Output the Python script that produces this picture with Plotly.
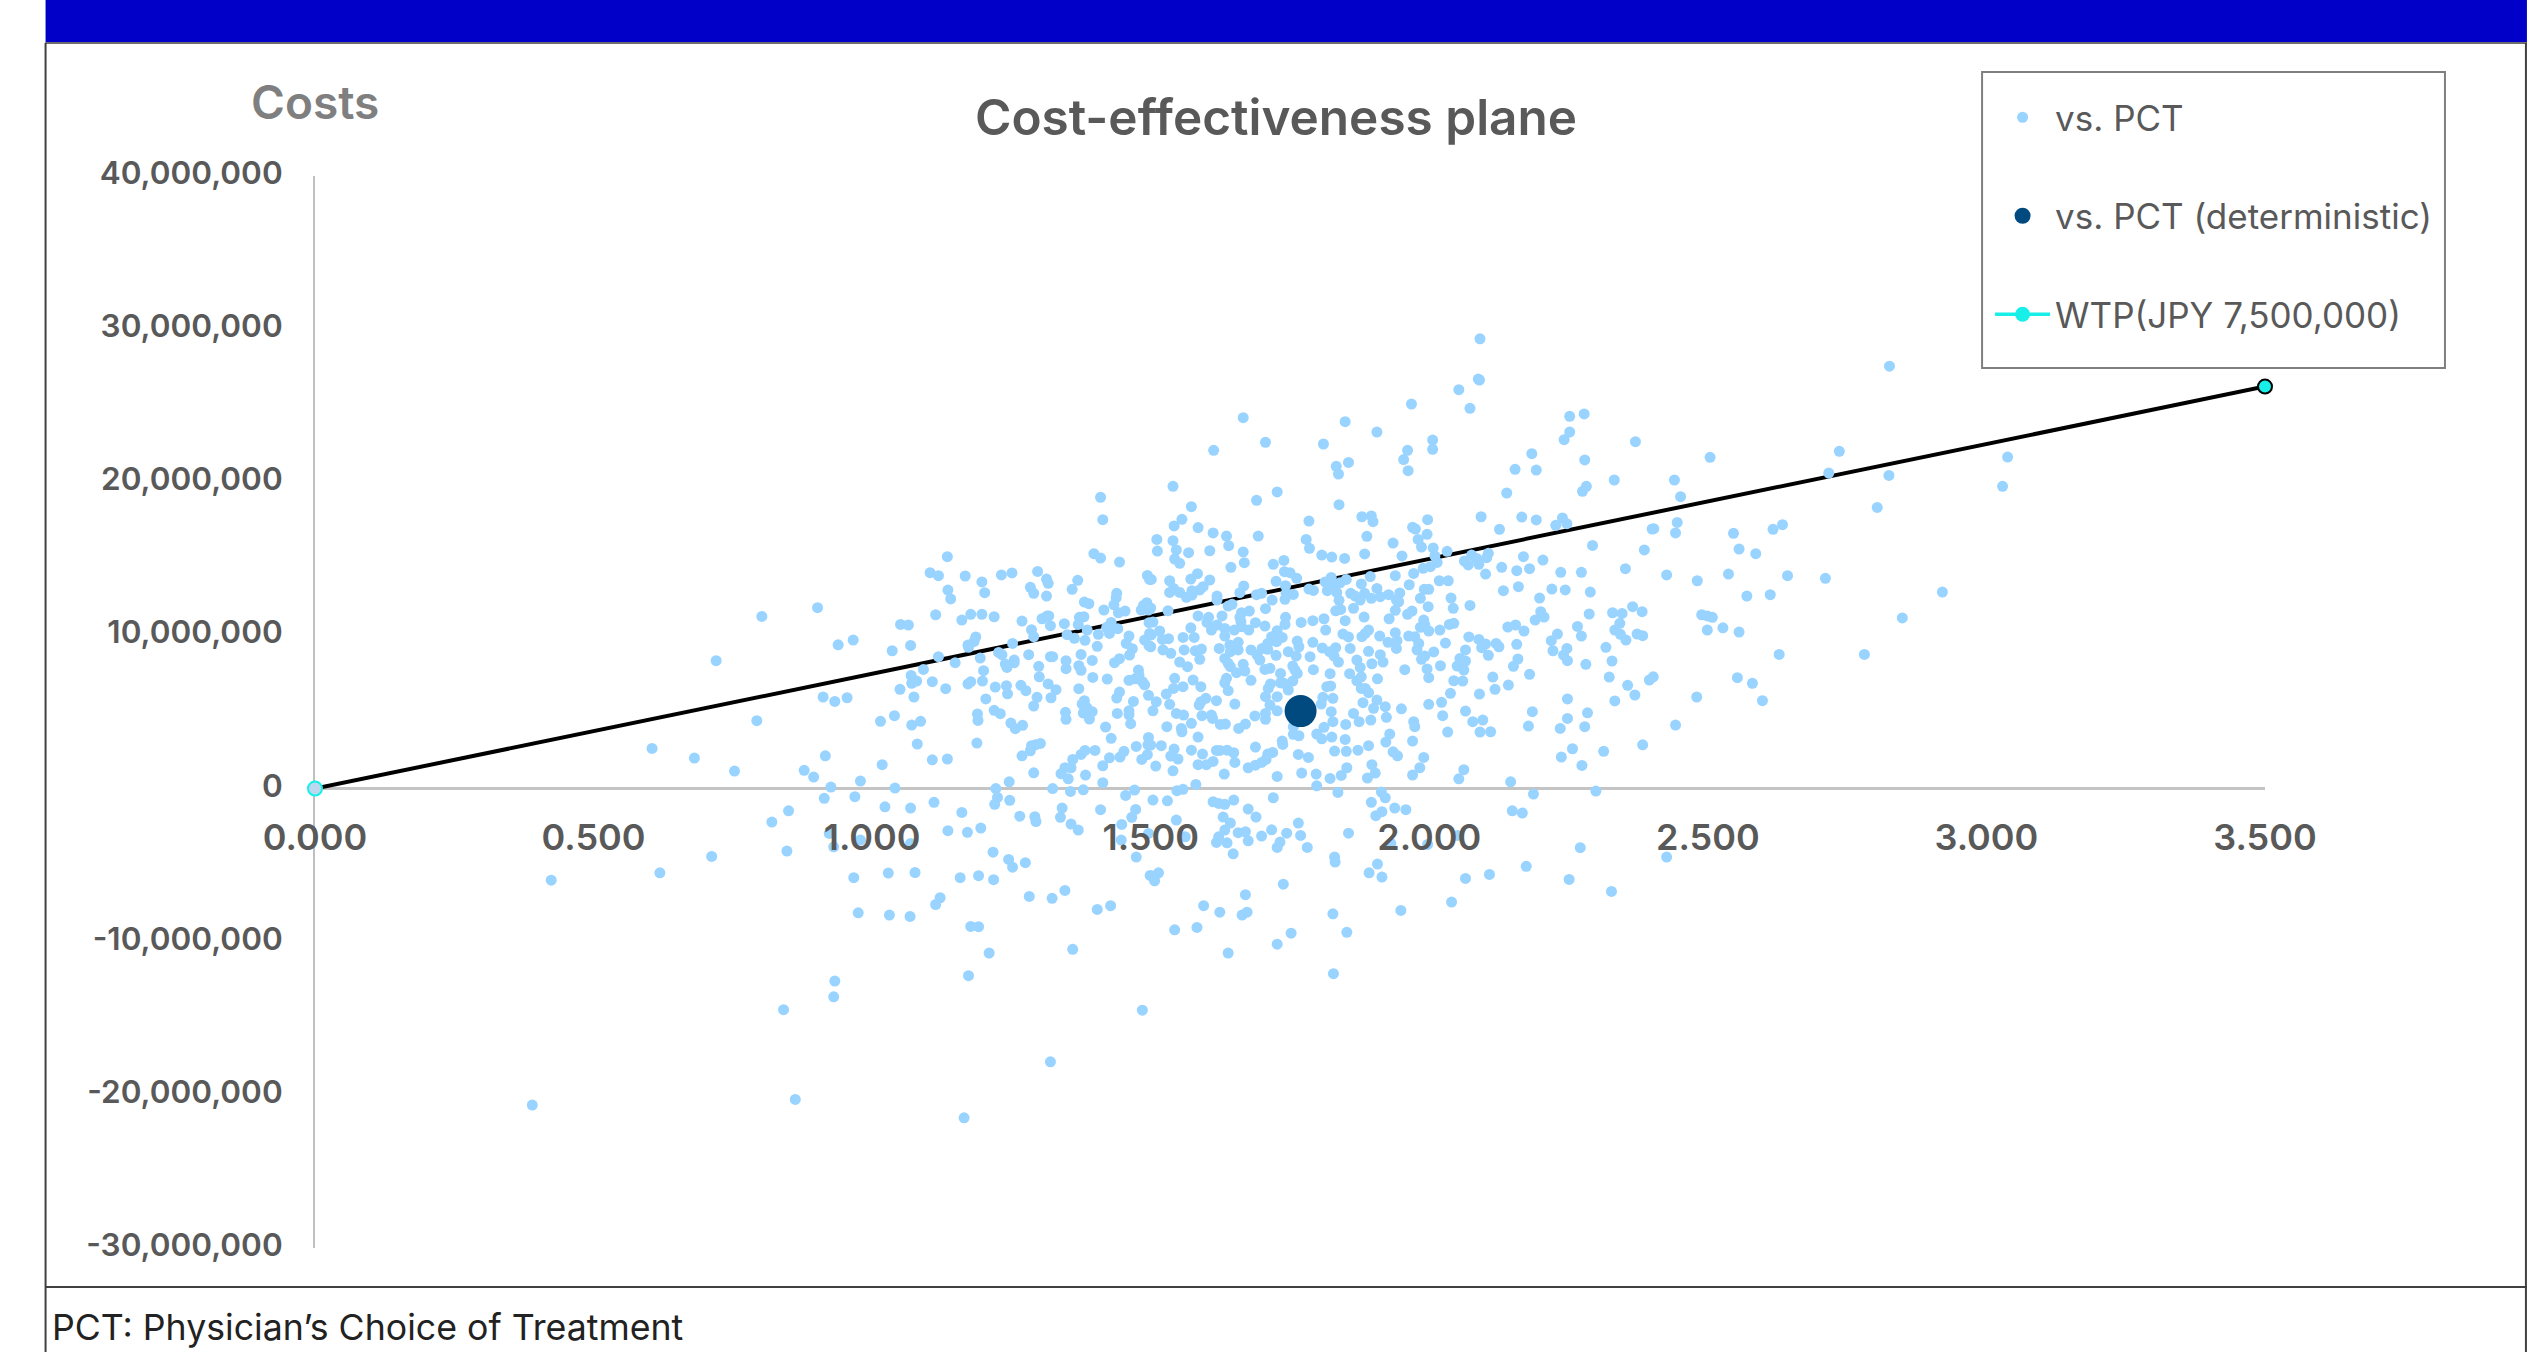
import plotly.graph_objects as go

# ---- data: QALYs gained (x) and incremental costs in million JPY (y) ----
qaly_upper_left = [.720,.802,.902,.939,.966,.912,.933,.955,.793,1.051,1.065,1.036,1.069,1.104,1.119,1.135,1.136,1.141,1.114,1.167,
1.197,1.202,1.232,1.251,1.297,1.313,1.316,1.284,1.290,1.313,1.369,1.359,1.410,1.414,1.398,1.410,1.444,1.494,1.498,1.161,
1.177,1.197,1.219,1.269,1.305,1.314,1.317,1.320,1.345,1.381,1.389,1.439,1.438,1.434,1.416,1.442,1.454,1.372,1.380,1.370,
1.386,1.483,1.487,1.493,1.496,1.497,1.429,1.421,1.429,1.441,1.426,1.406,1.286,1.290,1.350,1.363,1.382,1.404,1.461,1.456,
1.467,1.462,1.489,1.498,1.497,1.186,1.172,1.183,1.173,1.119,1.149,1.252,1.227,1.233,1.194,1.281,1.320,1.324,1.375,1.395,
1.348,1.348,1.371,1.375,1.299,1.300,1.255,1.255,1.239,1.242,1.200,1.444,1.435,1.092,1.070,1.080,1.071,1.108,1.132,1.050,
1.075,1.172,1.177,1.198,1.221,1.241,1.243,1.267,1.276,1.316,1.330,1.296,1.321,1.290,1.204,1.396,1.422,1.371,1.461,1.478,
1.472,1.479,1.485,1.489,1.444,1.439,1.496,1.469,1.381,1.377,1.385,1.379,1.395,1.390,1.347,1.348,1.440,1.461,1.461,1.464,
1.219,1.230,1.189,1.190,1.040,1.015,1.087,1.071,1.249,1.270,1.257,1.419]
cost_upper_left = [8.35,11.24,11.81,9.39,9.70,5.98,5.69,5.93,4.43,10.72,10.68,9.00,9.35,14.10,13.90,15.14,12.96,12.38,11.35,13.88,
13.49,12.79,13.95,14.08,14.18,13.68,13.40,13.14,12.75,12.57,13.60,13.01,19.02,17.56,15.34,15.05,14.79,13.92,13.66,11.00,
11.38,11.38,11.22,10.94,11.09,11.27,11.27,10.64,10.77,12.18,12.07,12.75,12.46,12.00,11.66,11.48,11.59,11.18,11.22,10.72,
10.35,11.66,11.96,12.14,11.66,10.83,10.85,10.53,10.46,10.44,10.13,10.07,10.37,9.92,10.05,9.81,9.68,9.29,9.96,9.48,
9.13,8.72,9.70,10.13,9.33,9.90,9.37,9.61,9.22,8.61,8.22,9.48,8.89,8.74,8.52,8.74,8.61,8.61,8.76,8.37,
8.35,7.83,8.02,7.72,7.98,7.30,8.39,8.22,8.13,7.91,7.70,8.48,8.22,7.78,7.39,7.02,6.87,6.98,6.52,6.48,
5.98,6.83,6.98,7.02,6.63,6.72,6.19,6.74,6.39,6.83,6.46,5.96,5.93,5.39,5.85,7.26,7.15,6.52,7.07,7.74,
7.17,7.41,6.98,6.78,6.30,5.91,6.09,5.69,5.74,5.52,5.30,4.93,5.02,4.54,4.98,4.52,4.91,5.08,4.82,4.24,
5.11,4.89,4.87,4.45,4.76,4.39,4.39,4.15,4.28,4.13,3.91,4.02]

qaly_lower_left = [.605,.681,.753,.878,.895,.916,.926,.979,1.018,1.081,1.108,1.135,1.188,1.041,.969,.914,.850,.820,1.023,1.069,
1.111,1.161,1.136,1.171,1.195,.923,.979,1.069,.931,.847,.712,.619,.967,1.029,1.077,1.158,1.191,1.218,1.217,1.245,
1.252,1.275,1.122,1.114,1.282,1.323,1.346,.975,1.031,1.068,1.177,1.191,1.210,1.360,1.173,.933,.931,.841,1.320,1.485,
1.404,1.428,1.474,1.499,1.448,1.447,1.496,1.466,1.473,1.410,1.357,1.370,1.338,1.341,1.292,1.294,1.265,1.247,1.225,1.220,
1.222,1.246,1.290,1.324,1.356,1.379,1.414,1.455,1.471,1.352,1.339,1.346,1.357,1.383,1.414,1.360,1.375,1.382,1.400,1.426,
1.445,1.452,1.474,1.484,1.494,1.269,1.284,1.286,1.293,1.302,1.429,1.496,1.495,.390,.862,1.165,.424]
cost_lower_left = [2.62,1.99,1.14,1.19,.75,2.14,.10,.49,1.56,2.91,1.88,1.93,2.97,.03,-.53,-.64,-1.45,-2.19,-1.19,-1.27,
-.90,-1.56,-2.75,-2.86,-2.58,-2.93,-3.36,-3.58,-3.80,-4.08,-4.43,-5.50,-5.82,-5.52,-5.48,-5.82,-5.69,-5.95,-4.15,-4.63,
-5.13,-4.84,-7.13,-7.57,-7.04,-7.17,-6.65,-8.11,-8.26,-8.35,-9.00,-9.02,-10.74,-10.50,-12.22,-12.57,-13.60,-14.44,-17.84,-14.47,
-7.89,-7.65,-4.47,-5.67,-2.34,-3.36,-2.93,-1.88,-1.36,-1.38,-2.32,-2.71,-1.88,-1.27,-1.84,-2.15,-1.80,-.77,-.58,-1.03,
0.0,.44,1.03,0.0,-.19,-.08,.38,-.45,-.10,.64,.97,1.36,1.36,.88,1.49,1.90,2.23,2.49,2.49,2.01,
2.06,2.43,2.75,1.90,2.21,2.14,2.47,2.80,2.86,2.95,3.28,3.34,2.86,-20.67,-20.30,-21.50,-5.98]

qaly_upper_mid_a = [1.666,1.613,1.706,1.849,1.810,1.906,1.968,2.053,2.090,2.073,2.252,2.278,2.252,2.242,2.370,2.006,2.006,1.961,1.954,1.962,
1.855,1.833,1.837,2.184,2.154,2.192,2.279,2.332,2.282,2.275,2.139,1.540,1.573,1.690,1.727,1.838,1.556,1.542,1.585,1.612,
1.636,1.693,1.784,1.779,1.785,1.879,1.896,1.899,1.888,1.970,1.975,1.997,1.996,1.980,1.986,1.935,1.884,1.951,2.007,2.010,
2.032,2.093,2.166,2.192,2.126,2.239,2.227,2.247,2.293,2.386,2.400,1.511,1.540,1.546,1.512,1.568,1.606,1.640,1.666,1.543,
1.552,1.668,1.644,1.720,1.739,1.807,1.825,1.848,2.169,2.204,2.106,2.076,2.063,2.085,2.070,2.089,2.103,2.130,2.157,2.180,
2.101,2.236,2.273,2.352,2.133,2.160,2.220,2.244,2.289,2.198,2.073,2.039,2.043,2.018,2.034,2.014,2.002,1.989,1.972,1.939,
1.894,1.964,1.878,1.906,1.947,1.991,1.999,1.984,1.998,1.927,1.912,1.859,1.867,1.884,1.896,1.876,1.941,1.945,1.939,1.864,
1.969,1.961,1.928,1.883,1.838,1.834,1.841,1.832,1.817,1.813,1.824,1.827,1.840,1.851,1.824,1.784,1.792,1.756,1.741,1.743,
1.742,1.725,1.740,1.750,1.762,1.718,1.706,1.699,1.690,1.667,1.660,1.606,1.584,1.572,1.594,1.588,1.574,1.534,1.501,1.541,
1.534,1.552,1.564,1.574,1.619,1.619,1.646,1.639,1.531,1.500,1.585,1.604,1.628,1.677,1.663,1.660,1.742,1.741,1.770,1.791,
1.811,1.849,1.814]
cost_upper_mid_a = [24.22,22.09,22.61,23.96,22.50,23.28,25.11,26.05,26.68,24.83,24.31,24.46,23.28,22.78,22.65,22.76,22.15,22.09,21.48,20.76,
21.30,21.04,20.54,21.87,20.85,20.80,21.46,20.15,19.74,19.41,19.30,19.74,18.41,18.82,19.37,18.54,17.58,17.15,17.04,16.69,
16.49,16.49,17.47,16.27,15.69,17.75,17.80,17.43,16.47,17.06,16.95,17.56,16.60,16.27,15.77,16.03,15.32,15.19,15.71,15.19,
15.49,17.75,17.73,17.54,16.93,17.67,17.19,17.30,15.88,15.58,16.95,16.27,16.19,15.58,15.51,15.40,15.53,15.86,15.45,14.99,
14.71,14.75,14.45,14.64,14.90,15.25,15.12,15.03,15.14,14.92,15.36,15.25,14.86,15.03,14.60,14.64,15.08,14.45,14.23,14.36,
14.01,14.12,14.12,14.36,12.92,13.18,13.03,12.97,12.83,12.44,11.96,12.44,11.77,13.57,13.57,14.77,14.49,14.38,14.05,13.90,
13.84,13.31,13.36,13.07,12.77,13.01,13.01,12.42,11.88,12.66,12.53,12.75,12.57,12.75,12.42,12.31,12.31,12.20,11.64,11.77,
11.59,11.38,11.09,11.20,12.29,12.81,11.70,11.61,12.92,13.49,13.79,13.36,13.44,13.66,13.07,13.03,12.94,12.68,12.36,12.75,
13.25,13.53,14.16,14.10,13.73,12.31,11.75,12.75,12.66,13.23,12.79,13.62,14.03,13.68,13.18,12.97,12.92,13.57,13.66,13.07,
12.81,12.81,12.49,12.64,12.57,12.31,12.03,11.92,11.61,11.79,11.27,11.18,11.27,11.59,11.48,11.18,11.18,10.72,10.85,10.96,
11.09,10.96,10.35]

qaly_upper_mid_b = [1.504,1.572,1.516,1.601,1.609,1.619,1.633,1.650,1.663,1.676,1.688,1.705,1.662,1.501,1.532,1.521,1.558,1.578,1.633,1.657,
1.642,1.500,1.522,1.536,1.560,1.580,1.591,1.623,1.643,1.657,1.680,1.700,1.710,1.727,1.736,1.717,1.726,1.710,1.763,1.766,
1.791,1.747,1.761,1.725,1.691,1.696,1.808,1.832,1.821,1.829,1.786,1.837,1.858,1.845,1.855,1.879,1.891,1.885,1.911,1.926,
1.939,1.942,1.941,1.891,1.912,1.917,1.870,1.876,1.897,1.963,1.974,1.981,1.978,1.992,1.984,1.990,1.999,2.019,2.036,2.044,
2.029,2.008,1.992,1.986,1.956,1.996,2.020,1.999,2.071,2.065,2.055,2.065,2.050,2.062,2.044,2.060,2.089,2.101,2.094,2.106,
2.120,2.125,2.141,2.155,2.170,2.157,2.159,2.151,2.180,2.114,2.142,2.118,2.090,2.038,2.022,1.999,1.950,2.024,2.065,2.078,
2.096,2.178,2.185,2.248,2.248,2.284,2.333,2.369,2.356,2.323,2.281,2.328,2.317,2.248,2.241,2.247,2.222,2.219,2.230,2.266,
2.273,2.190,2.206,2.200,2.287,2.329,2.346,2.365,2.382,2.342,2.333,2.343,2.353,2.373,2.383,2.395]
cost_upper_mid_b = [10.87,10.50,10.29,10.85,10.35,10.68,10.46,10.35,10.57,10.35,10.83,10.61,10.90,10.03,9.79,9.74,9.87,9.87,9.96,9.55,
9.37,9.26,9.05,8.83,9.05,9.00,9.11,9.15,8.94,9.05,9.05,9.15,9.09,10.31,9.87,9.92,9.59,9.48,9.63,9.26,
9.55,8.94,8.65,8.70,8.72,8.39,9.18,9.20,8.94,8.65,8.61,8.26,9.15,10.09,9.90,9.92,10.35,10.13,9.96,9.55,
10.18,9.66,9.15,8.96,8.74,8.26,8.39,7.91,8.15,9.96,9.92,9.48,9.05,10.68,10.53,11.00,10.29,10.35,10.72,10.79,
9.50,8.92,8.65,8.44,7.76,7.81,8.02,7.24,9.90,9.05,8.50,8.33,8.00,7.74,7.04,7.02,9.74,9.44,9.20,8.70,
9.48,9.26,10.55,10.68,10.29,9.42,8.46,7.98,7.46,7.28,6.76,6.48,6.17,6.22,5.63,5.50,5.21,4.76,5.06,4.37,
4.47,4.08,5.02,5.85,4.58,4.95,5.72,6.11,6.74,7.28,8.11,8.33,9.22,8.35,8.72,9.15,9.00,9.66,10.09,10.59,
9.96,11.00,11.20,11.55,11.40,11.48,11.44,11.88,11.55,10.79,10.35,10.07,9.70,10.09,9.98,7.09]

qaly_upper_mid_c = [1.827,1.809,1.806,1.906,1.881,1.921,1.900,1.864,1.824,1.923,1.895,1.874,1.850,1.827,1.811,1.972,1.974,1.885,1.891,1.878,
1.870,1.857,1.907,1.878,1.822,1.792,1.823,1.816,1.755,1.759,1.763,1.755,1.747,1.733,1.739,1.714,1.705,1.680,1.669,1.666,
1.654,1.639,1.633,1.643,1.588,1.566,1.552,1.543,1.576,1.590,1.558,1.541,1.528,1.636,1.633,1.639,1.618,1.651,1.599,1.590,
1.587,1.510,1.534,1.546,1.559,1.592,1.609,1.611,1.573,1.529,1.555,1.625,1.634,1.670,1.658,1.687,1.706,1.706,1.727,1.711,
1.706,1.715,1.727,1.714,1.733,1.504,1.756,2.235,2.279]
cost_upper_mid_c = [5.89,5.96,5.52,5.78,5.61,5.35,5.24,4.91,5.02,4.65,4.47,4.37,4.19,4.37,4.00,4.37,4.04,6.54,6.26,6.54,
7.04,7.50,7.17,7.30,7.50,7.76,6.70,6.65,8.00,7.74,7.52,7.02,6.43,7.52,6.87,7.85,7.78,7.07,7.67,8.11,
7.57,8.18,8.50,7.96,8.44,7.96,8.26,7.20,7.09,6.65,6.65,6.54,6.17,7.20,6.91,6.39,5.74,5.52,5.89,5.67,
5.45,5.67,5.50,4.91,4.80,4.76,4.80,4.58,4.26,4.04,3.93,4.19,4.21,4.21,3.93,4.74,4.91,4.52,5.08,6.54,
6.00,6.83,6.00,5.45,6.91,5.08,4.04,3.93,4.04]

qaly_upper_right = [2.504,2.440,2.451,2.736,2.717,2.825,2.804,3.038,3.029,2.445,2.442,2.403,2.546,2.556,2.586,2.617,2.634,2.426,2.481,2.537,
2.643,2.711,2.570,2.612,2.921,2.849,2.489,2.499,2.508,2.499,2.527,2.556,2.628,2.781,2.402,2.553,2.580,2.480,2.598,2.442,
2.091,2.088,2.826]
cost_upper_right = [21.63,20.15,19.06,22.02,20.60,20.45,18.36,21.65,19.74,17.38,16.69,16.97,16.67,15.64,15.34,16.93,17.23,13.95,13.57,14.01,
13.90,13.73,12.57,12.66,12.83,11.14,11.35,11.27,11.18,10.35,10.50,10.22,8.76,8.76,7.30,7.24,6.87,5.98,5.74,4.15,
29.37,26.74,27.58]

qaly_lower_mid = [1.519,1.500,1.542,1.536,1.549,1.509,1.540,1.573,1.593,1.585,1.556,1.585,1.600,1.612,1.632,1.581,1.547,1.558,1.504,1.530,
1.618,1.624,1.637,1.649,1.651,1.688,1.675,1.688,1.699,1.707,1.710,1.719,1.736,1.737,1.756,1.766,1.765,1.783,1.727,1.771,
1.797,1.798,1.822,1.842,1.852,1.830,1.851,1.872,1.891,1.849,1.825,1.798,1.807,1.922,1.929,1.970,2.033,2.091,2.110,1.935,
1.943,1.990,1.897,1.983,1.903,1.889,1.970,2.062,2.053,2.146,2.237,2.257,2.274,2.313,2.383,2.187,2.299,1.836,1.914,1.921,
1.896,1.938,1.958,1.915,1.904,2.149,2.167,1.612,1.622,1.633,1.649,1.675,1.689,1.720,1.630,1.643,1.633,1.622,1.618,1.637,
1.657,1.670,1.675,1.648,1.699,1.717,1.744,1.765,1.769,1.732,1.727,1.781,1.855,1.546,1.562,1.931,1.997,2.051,2.271,1.830,
1.831,1.907,1.892,1.915,2.174,2.065,2.108,2.251,2.327,1.514,1.502,1.507,1.738,1.670,2.040,1.595,1.624,1.664,1.673,1.827,
1.949,1.543,1.583,1.852,1.752,1.727,1.639,1.828,2.426]
cost_lower_mid = [2.80,2.84,2.58,2.12,1.93,1.47,1.16,2.51,2.25,3.36,3.71,1.56,1.56,1.77,.95,.27,-.14,-.05,-.75,-.80,
2.49,2.49,2.51,2.34,1.71,2.71,1.36,1.53,1.71,1.90,2.25,2.36,3.10,2.88,3.54,3.45,2.23,2.03,.79,1.01,
.95,.18,.66,.86,1.36,2.45,2.43,2.51,2.80,3.21,3.36,3.56,3.25,3.04,3.56,3.10,3.69,3.69,3.71,2.40,
2.14,2.03,1.56,1.36,1.01,.69,.88,1.23,.64,.44,2.06,2.60,1.51,2.43,2.86,-.36,-.16,-.25,-.23,-.60,
-.90,-1.27,-1.38,-1.51,-1.77,-1.45,-1.60,-.86,-.97,-1.03,-.75,-1.34,-1.86,-.60,-1.86,-2.25,-2.71,-3.15,-3.52,-3.54,
-2.88,-2.82,-3.41,-4.26,-3.10,-2.69,-2.91,-2.25,-3.06,-3.49,-3.84,-3.84,-2.91,-2.06,-3.15,-3.58,-3.65,-3.06,-3.86,-4.47,
-4.80,-4.93,-5.50,-5.78,-5.08,-5.87,-5.61,-5.93,-6.72,-5.50,-5.71,-6.02,-6.24,-6.93,-7.41,-7.65,-8.07,-8.26,-8.07,-8.18,
-7.96,-9.22,-9.07,-9.39,-9.44,-10.16,-10.74,-12.09,-4.47]

deterministic_qaly = [1.769]
deterministic_cost_m = [5.06]
wtp_qaly = [0.0, 3.5]
wtp_cost_m = [0.0, 26.25]

x_ticks = [0.0, 0.5, 1.0, 1.5, 2.0, 2.5, 3.0, 3.5]
x_labels = ["0.000", "0.500", "1.000", "1.500", "2.000", "2.500", "3.000", "3.500"]
y_ticks = [-30, -20, -10, 0, 10, 20, 30, 40]
y_labels = ["-30,000,000", "-20,000,000", "-10,000,000", "0", "10,000,000", "20,000,000", "30,000,000", "40,000,000"]

qaly_groups = [qaly_upper_left, qaly_lower_left, qaly_upper_mid_a, qaly_upper_mid_b, qaly_upper_mid_c, qaly_upper_right, qaly_lower_mid]
cost_groups = [cost_upper_left, cost_lower_left, cost_upper_mid_a, cost_upper_mid_b, cost_upper_mid_c, cost_upper_right, cost_lower_mid]
for a, b in zip(qaly_groups, cost_groups):
    assert len(a) == len(b), (len(a), len(b))
psa_qaly = [v for g in qaly_groups for v in g]
psa_cost = [v * 1e6 for g in cost_groups for v in g]

W, H = 2527, 1352
L, R, T, B = 314.5, 2265, 176, 1248
PW, PH = R - L, B - T
def px(x): return (x - L) / PW
def py(y): return (B - y) / PH

FONT = "Inter, 'Liberation Sans', Arial, sans-serif"
GREY = "#595959"
CYAN = "#17EFE8"

fig = go.Figure()
# black WTP line first so that the PSA dots lie over it
fig.add_trace(go.Scatter(
    x=wtp_qaly, y=[v * 1e6 for v in wtp_cost_m], mode="lines+markers", showlegend=False, cliponaxis=False,
    line=dict(color="#000000", width=4),
    marker=dict(size=14, color=["#BDD7EE", CYAN], line=dict(color=[CYAN, "#000000"], width=2)),
))
fig.add_trace(go.Scatter(
    x=psa_qaly, y=psa_cost, mode="markers", name="vs. PCT", legendgroup="a",
    marker=dict(size=11, color="#99D3FF"),
))
fig.add_trace(go.Scatter(
    x=deterministic_qaly, y=[v * 1e6 for v in deterministic_cost_m], mode="markers",
    name="vs. PCT (deterministic)", legendgroup="b",
    marker=dict(size=32, color="#004A7F"),
))
fig.add_trace(go.Scatter(
    x=[None], y=[None], mode="lines+markers", name="WTP(JPY 7,500,000)", legendgroup="c",
    line=dict(color=CYAN, width=3.5), marker=dict(size=15, color=CYAN),
))

shapes = [
    dict(type="rect", xref="paper", yref="paper", x0=px(45), x1=px(2527), y0=py(43), y1=py(0),
         fillcolor="#0000C8", line=dict(width=0), layer="below"),
    dict(type="line", xref="paper", yref="paper", x0=px(45), x1=px(2527), y0=py(43), y1=py(43),
         line=dict(color="#6E6E6E", width=2), layer="below"),
    dict(type="line", xref="paper", yref="paper", x0=px(45), x1=px(45), y0=py(43), y1=py(1352),
         line=dict(color="#404040", width=2), layer="below"),
    dict(type="line", xref="paper", yref="paper", x0=px(2526), x1=px(2526), y0=py(43), y1=py(1352),
         line=dict(color="#404040", width=2), layer="below"),
    dict(type="line", xref="paper", yref="paper", x0=px(45), x1=px(2527), y0=py(1287), y1=py(1287),
         line=dict(color="#404040", width=2), layer="below"),
    # frame of the legend
    dict(type="rect", xref="paper", yref="paper", x0=px(1982), x1=px(2445), y0=py(368), y1=py(72),
         fillcolor="rgba(0,0,0,0)", line=dict(color="#7F7F7F", width=2), layer="below"),
]
annotations = [
    dict(text="Costs", xref="paper", yref="paper", x=px(315), y=py(102), xanchor="center", yanchor="middle",
         showarrow=False, font=dict(family=FONT, size=46, color="#7F7F7F", weight=600)),
    dict(text="PCT: Physician\u2019s Choice of Treatment", xref="paper", yref="paper", x=px(49), y=py(1327),
         xanchor="left", yanchor="middle", showarrow=False, font=dict(family=FONT, size=35.7, color="#222222")),
]

fig.update_layout(
    width=W, height=H, autosize=False, paper_bgcolor="white", plot_bgcolor="rgba(0,0,0,0)",
    margin=dict(l=L, r=W - R, t=T, b=H - B, pad=0),
    shapes=shapes, annotations=annotations,
    title=dict(text="Cost-effectiveness plane", x=1276 / W, y=1 - 118 / H, xanchor="center", yanchor="middle",
               xref="container", yref="container",
               font=dict(family=FONT, size=49.5, color=GREY, weight=600)),
    legend=dict(x=px(1990), y=py(88), xanchor="left", yanchor="top", bgcolor="rgba(255,255,255,0)",
                borderwidth=0, traceorder="grouped", tracegroupgap=50,
                itemwidth=55, itemsizing="trace", font=dict(family=FONT, size=35, color=GREY)),
    xaxis=dict(range=[0, 3.5], anchor="free", position=30 / 70, tickmode="array", tickvals=x_ticks, ticktext=x_labels,
               showgrid=False, zeroline=False, showline=False, ticks="", ticklabelstandoff=24,
               tickfont=dict(family=FONT, size=36, color=GREY, weight=600)),
    yaxis=dict(range=[-30e6, 40e6], tickmode="array", tickvals=[v * 1e6 for v in y_ticks], ticktext=y_labels,
               showgrid=False, showline=True, linecolor="#BFBFBF", linewidth=2, layer="below traces",
               zeroline=True, zerolinecolor="#C4C4C4", zerolinewidth=2.5, ticks="", ticklabelstandoff=24,
               ticklabelshift=-3,
               tickfont=dict(family=FONT, size=31.5, color=GREY, weight=600)),
)

fig.write_html("out.html", config=dict(displayModeBar=False),
               post_script="document.body.style.margin='0';document.body.style.overflow='hidden';")
